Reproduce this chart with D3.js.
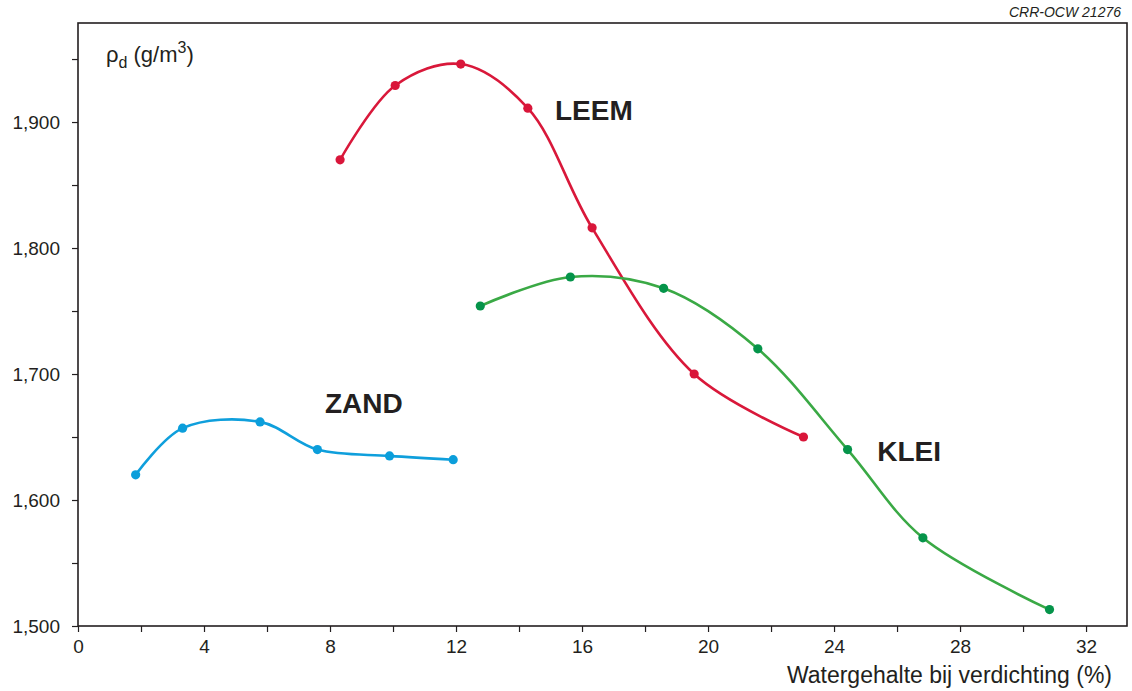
<!DOCTYPE html>
<html>
<head>
<meta charset="utf-8">
<script src="https://cdn.jsdelivr.net/npm/d3@7"></script>
<style>
  body { margin: 0; background: #fff; }
  svg { display: block; font-family: "Liberation Sans", Arial, Helvetica, sans-serif; }
</style>
</head>
<body>
<svg width="1132" height="691"></svg>
<script>
// water content (%) and dry density (kg/m3 as shown on the axis)
const zandX = [1.83, 3.32, 5.78, 7.60, 9.89, 11.91];
const zandY = [1620, 1657, 1662, 1640, 1635, 1632];

const leemX = [8.32, 10.07, 12.15, 14.28, 16.32, 19.56, 23.03];
const leemY = [1870, 1929, 1946, 1911, 1816, 1700, 1650];

const kleiX = [12.77, 15.63, 18.59, 21.58, 24.43, 26.82, 30.84];
const kleiY = [1754, 1777, 1768, 1720, 1640, 1570, 1513];

const xTicks = [0, 4, 8, 12, 16, 20, 24, 28, 32];
const yTicks = [1500, 1600, 1700, 1800, 1900];

// where each soil name sits, in data units
const labelAt = {ZAND: [7.84, 1669], LEEM: [15.14, 1902], KLEI: [25.37, 1631]};

const series = [
    {name: 'ZAND', xs: zandX, ys: zandY, line: '#0f9fdc', dot: '#0b9edb'},
    {name: 'LEEM', xs: leemX, ys: leemY, line: '#d9183a', dot: '#d9163a'},
    {name: 'KLEI', xs: kleiX, ys: kleiY, line: '#3aa945', dot: '#05944a'}
];

const plotLeft = 78, plotRight = 1127, plotTop = 23, plotBottom = 626;

const x = d3.scaleLinear().domain([0, 33.3]).range([plotLeft, plotRight]);
const y = d3.scaleLinear().domain([1500, 1978.6]).range([plotBottom, plotTop]);

const svg = d3.select('svg');
const ink = '#231f20';

// frame
svg.append('rect')
    .attr('x', plotLeft).attr('y', plotTop)
    .attr('width', plotRight - plotLeft).attr('height', plotBottom - plotTop)
    .style('fill', 'none')
    .style('stroke', ink)
    .style('stroke-width', 1.6);

// x axis: ticks every 2, labels every 4
const xAxis = d3.axisBottom(x)
    .tickValues(d3.range(0, 33, 2))
    .tickSize(6)
    .tickPadding(8)
    .tickFormat(d => xTicks.includes(d) ? d : '');

svg.append('g')
    .attr('transform', `translate(0,${plotBottom})`)
    .call(xAxis)
    .call(g => g.select('.domain').remove())
    .call(g => g.selectAll('line').style('stroke', ink).style('stroke-width', 1.2))
    .call(g => g.selectAll('text')
        .style('font-size', '19px')
        .style('fill', ink)
        .style('font-family', '"Liberation Sans", Arial, sans-serif'));

// y axis: ticks every 50, labels every 100
const yAxis = d3.axisLeft(y)
    .tickValues(d3.range(1500, 1951, 50))
    .tickSize(6)
    .tickPadding(12)
    .tickFormat(d => yTicks.includes(d) ? d3.format(',')(d) : '');

svg.append('g')
    .attr('transform', `translate(${plotLeft},0)`)
    .call(yAxis)
    .call(g => g.select('.domain').remove())
    .call(g => g.selectAll('line').style('stroke', ink).style('stroke-width', 1.2))
    .call(g => g.selectAll('text')
        .style('font-size', '19px')
        .style('fill', ink)
        .style('font-family', '"Liberation Sans", Arial, sans-serif'));

// curves
const line = d3.line()
    .x(d => x(d[0]))
    .y(d => y(d[1]))
    .curve(d3.curveCatmullRom.alpha(0.5));

series.forEach(function (s) {
    const pts = s.xs.map((v, i) => [v, s.ys[i]]);

    svg.append('path')
        .datum(pts)
        .attr('d', line)
        .style('fill', 'none')
        .style('stroke', s.line)
        .style('stroke-width', 2.6);

    svg.selectAll('.dot-' + s.name)
        .data(pts)
        .enter()
        .append('circle')
        .attr('class', 'dot-' + s.name)
        .attr('cx', d => x(d[0]))
        .attr('cy', d => y(d[1]))
        .attr('r', 4.6)
        .style('fill', s.dot);

    svg.append('text')
        .attr('x', x(labelAt[s.name][0]))
        .attr('y', y(labelAt[s.name][1]))
        .style('font-size', '28px')
        .style('font-weight', 'bold')
        .style('fill', ink)
        .text(s.name);
});

// y axis title
const yTitle = svg.append('text')
    .attr('x', 106)
    .attr('y', 62)
    .style('font-size', '22px')
    .style('fill', ink);
yTitle.append('tspan').text('ρ');
yTitle.append('tspan').attr('dy', 6).style('font-size', '16px').text('d');
yTitle.append('tspan').attr('dy', -6).text(' (g/m');
yTitle.append('tspan').attr('dy', -9).style('font-size', '16px').text('3');
yTitle.append('tspan').attr('dy', 9).text(')');

// x axis title
svg.append('text')
    .attr('x', 1112)
    .attr('y', 683)
    .attr('text-anchor', 'end')
    .style('font-size', '23px')
    .style('fill', ink)
    .text('Watergehalte bij verdichting (%)');

// reference code
svg.append('text')
    .attr('x', 1121)
    .attr('y', 17)
    .attr('text-anchor', 'end')
    .style('font-size', '14px')
    .style('font-style', 'italic')
    .style('fill', ink)
    .text('CRR-OCW 21276');
</script>
</body>
</html>
